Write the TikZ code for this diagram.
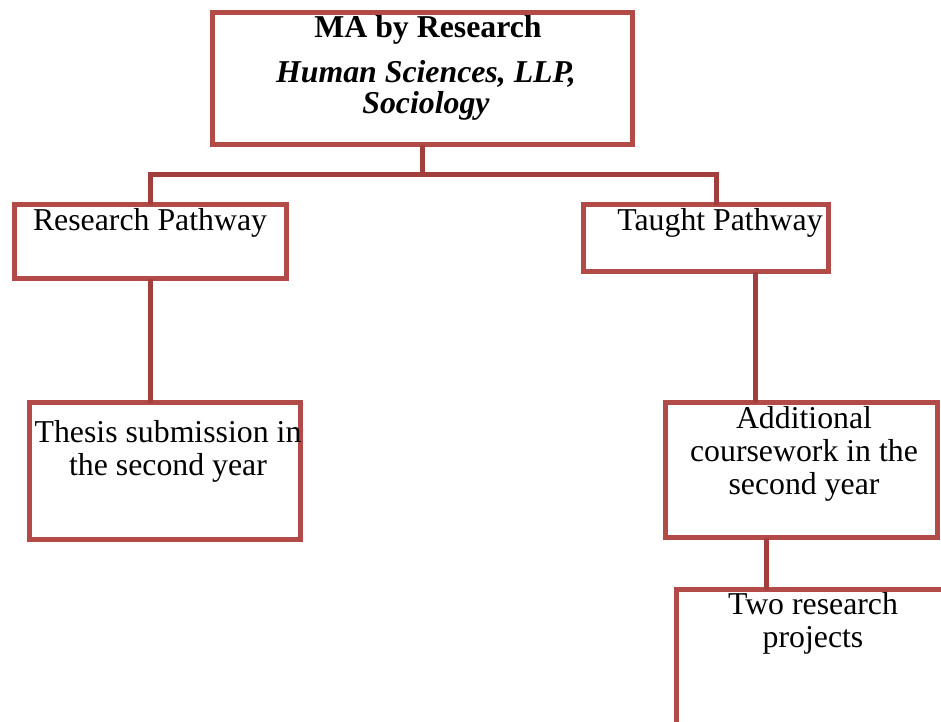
\documentclass[tikz,border=0pt]{standalone}
\usepackage{fontspec}
\setmainfont{Liberation Serif}
\definecolor{boxred}{RGB}{178,74,72}
\definecolor{linered}{RGB}{162,62,60}
\begin{document}
\begin{tikzpicture}[x=1pt,y=-1pt,
  box/.style={draw=boxred, line width=5pt, inner sep=0pt, outer sep=0pt, anchor=north west, rectangle},
  conn/.style={draw=linered, line width=5pt},
  txt/.style={font=\fontsize{31.8}{33}\selectfont, align=center, inner sep=0pt, anchor=base}]
\useasboundingbox (0,0) rectangle (941,721);
\clip (0,0) rectangle (941,721);
% boxes
\node[box, minimum width=420pt, minimum height=132pt] (top) at (212.5,12.5) {};
\node[box, minimum width=272pt, minimum height=74pt] (rp) at (14.5,204.5) {};
\node[box, minimum width=245pt, minimum height=67pt] (tp) at (583.5,204.5) {};
\node[box, minimum width=271pt, minimum height=137pt] (th) at (29.5,402.5) {};
\node[box, minimum width=272pt, minimum height=135pt] (ad) at (665.5,402.5) {};
\node[box, minimum width=400pt, minimum height=300pt] (tw) at (676.5,589.5) {};
% texts (multi-line nodes: base = last line)
\node[txt, font=\fontsize{31.8}{33}\selectfont\bfseries] (t1) at (428,37) {MA by Research};
\node[txt, font=\fontsize{31.8}{31}\selectfont\bfseries\itshape] (t2) at (426,113) {Human Sciences, LLP,\\Sociology};
\node[txt] (rpt) at (150,230) {Research Pathway};
\node[txt] (tpt) at (720,230) {Taught Pathway};
\node[txt] (tht) at (168,475) {Thesis submission in\\the second year};
\node[txt] (adt) at (804,494) {Additional\\coursework in the\\second year};
\node[txt] (twt) at (813,647) {Two research\\projects};
% connectors
\coordinate (barL) at (150.5,174);
\coordinate (barR) at (716,174);
\coordinate (tx) at (755,0);
\coordinate (ax) at (766,0);
\draw[conn] (top.south) -- (top.south |- barL);
\draw[conn] (barL |- rp.north) -- (barL) -- (barR) -- (barR |- tp.north);
\draw[conn] (rp.south) -- (rp.south |- th.north);
\draw[conn] (tx |- tp.south) -- (tx |- ad.north);
\draw[conn] (ax |- ad.south) -- (ax |- tw.north);
\end{tikzpicture}
\end{document}
